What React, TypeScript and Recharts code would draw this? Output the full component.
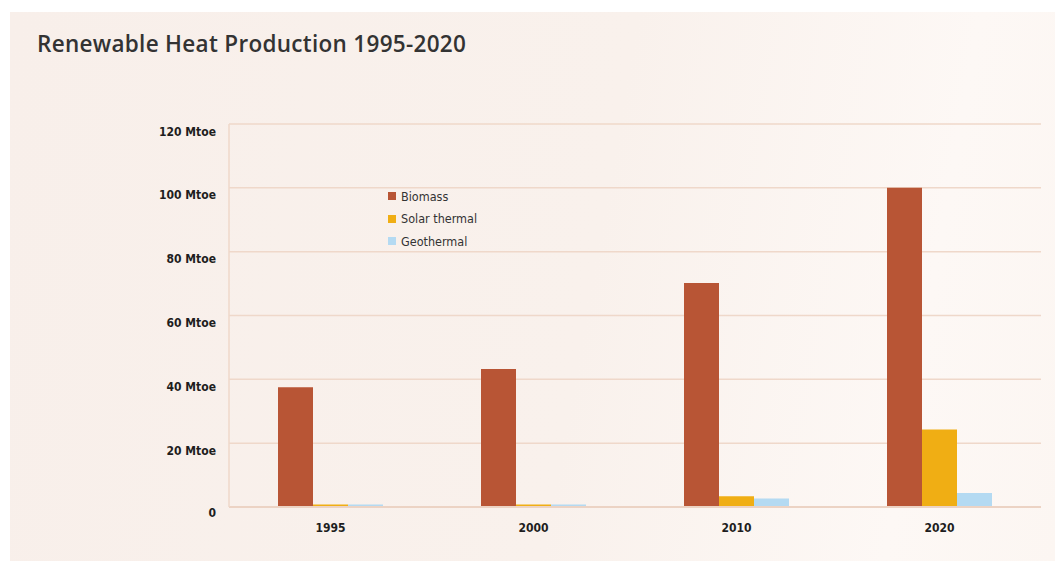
import React from 'react';
import { BarChart, Bar, XAxis, YAxis, CartesianGrid, Legend } from 'recharts';

const years = ['1995', '2000', '2010', '2020'];
const biomass = [37.5, 43.2, 70.2, 100];
const solarThermal = [0.8, 0.8, 3.4, 24.3];
const geothermal = [0.8, 0.8, 2.7, 4.4];
const yTicks = [0, 20, 40, 60, 80, 100, 120];
const yTickLabels = ['0', '20 Mtoe', '40 Mtoe', '60 Mtoe', '80 Mtoe', '100 Mtoe', '120 Mtoe'];
const seriesNames = ['Biomass', 'Solar thermal', 'Geothermal'];
const title = 'Renewable Heat Production 1995-2020';

const data = years.map((y, i) => ({
  year: y,
  biomass: biomass[i],
  solar: solarThermal[i],
  geo: geothermal[i],
}));

const COND = '"Liberation Sans Narrow", "DejaVu Sans Condensed", "Roboto Condensed", sans-serif';

const YTick = (props: any) => {
  const { x, y, payload } = props;
  const idx = yTicks.indexOf(payload.value);
  const label = idx >= 0 ? yTickLabels[idx] : String(payload.value);
  return (
    <text x={x} y={y} dy={payload.value === 0 ? 6 : 8} textAnchor="end" dominantBaseline="middle"
      fontFamily={COND} fontWeight="bold" fontSize={12} fill="#1e1e1e">
      {label}
    </text>
  );
};

const XTick = (props: any) => {
  const { x, y, payload } = props;
  return (
    <text x={x} y={y} textAnchor="middle" dominantBaseline="middle"
      fontFamily={COND} fontWeight="bold" fontSize={12} fill="#1e1e1e">
      {payload.value}
    </text>
  );
};

const LegendContent = (props: any) => {
  const items = [...(props.payload || [])].sort(
    (a: any, b: any) => seriesNames.indexOf(a.value) - seriesNames.indexOf(b.value)
  );
  return (
    <div style={{ fontFamily: COND, fontSize: 12.5, color: '#333' }}>
      {items.map((e: any) => (
        <div key={e.value} style={{ display: 'flex', alignItems: 'center', height: 22.5 }}>
          <span style={{ display: 'inline-block', width: 8, height: 8, background: e.color, marginRight: 5 }} />
          <span>{e.value}</span>
        </div>
      ))}
    </div>
  );
};

export default function App() {
  return (
    <div style={{ position: 'absolute', left: 0, top: 0, width: 1055, height: 561, background: '#ffffff', overflow: 'hidden' }}>
      <div style={{
        position: 'absolute', left: 10, top: 12, width: 1045, height: 549,
        background: 'linear-gradient(100deg, #f8efea 0%, #f9f1ec 55%, #fdf8f5 85%, #fcf6f2 100%)',
      }} />
      <div style={{
        position: 'absolute', left: 37, top: 28, fontFamily: '"Open Sans", sans-serif', fontWeight: 600,
        fontSize: 22.5, color: '#333', whiteSpace: 'nowrap', lineHeight: '32px', letterSpacing: 0.3,
      }}>{title}</div>
      <div style={{ position: 'absolute', left: 0, top: 0 }}>
        <BarChart width={1055} height={561} data={data}
          margin={{ top: 124, right: 14, bottom: 24, left: 149 }}
          barCategoryGap={49} barGap={0}>
          <CartesianGrid vertical={false} stroke="#efd8ca" strokeWidth={1.5} />
          <XAxis dataKey="year" height={30} tick={<XTick />} tickLine={false} tickSize={6} tickMargin={15}
            axisLine={{ stroke: '#ecd3c4', strokeWidth: 2 }} interval={0} />
          <YAxis width={80} domain={[0, 120]} ticks={yTicks} tick={<YTick />} tickLine={false}
            tickSize={6} tickMargin={7} axisLine={{ stroke: '#efd8ca', strokeWidth: 1.5 }} />
          <Legend content={<LegendContent />} layout="vertical" verticalAlign="middle" align="center"
            wrapperStyle={{ position: 'absolute', left: 388, top: 185, width: 150 }} />
          <Bar dataKey="biomass" name={seriesNames[0]} fill="#b85535" isAnimationActive={false} />
          <Bar dataKey="solar" name={seriesNames[1]} fill="#f0ae14" isAnimationActive={false} />
          <Bar dataKey="geo" name={seriesNames[2]} fill="#b4daf2" isAnimationActive={false} />
        </BarChart>
      </div>
    </div>
  );
}
